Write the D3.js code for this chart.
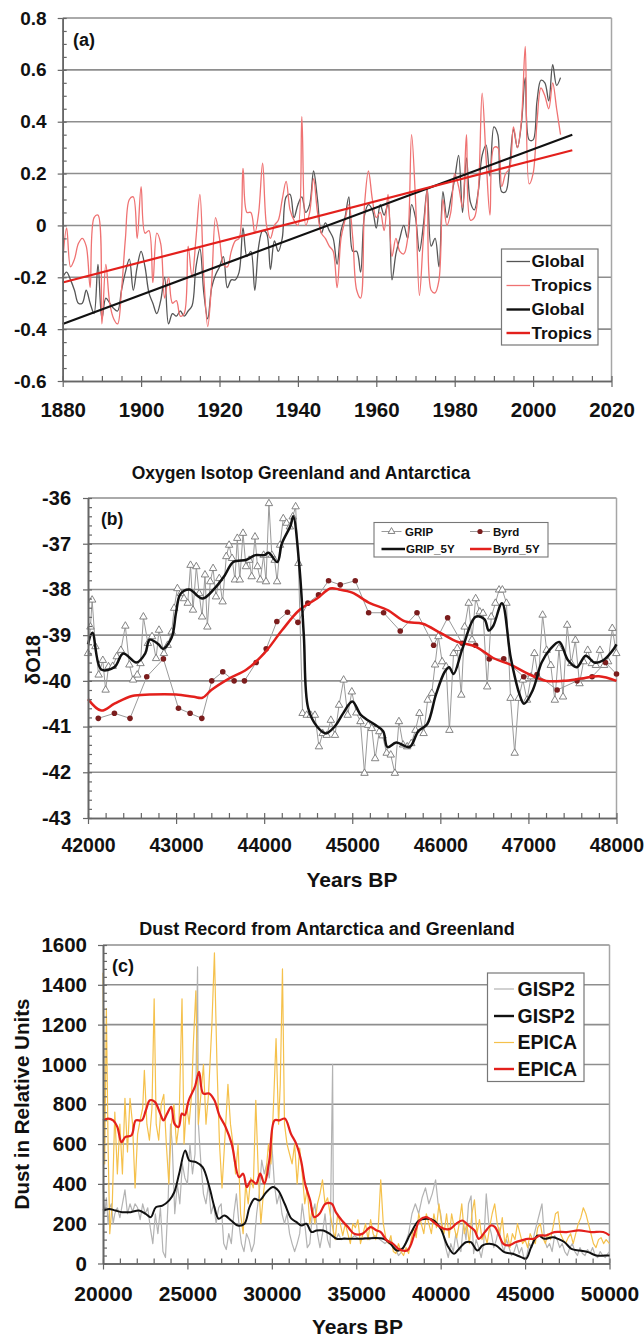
<!DOCTYPE html>
<html>
<head>
<meta charset="utf-8">
<script src="https://cdn.jsdelivr.net/npm/d3@7"></script>
<style>
  body { margin: 0; background: #fff; }
  svg { display: block; }
  text { font-family: "Liberation Sans", Arial, sans-serif; font-weight: bold; fill: #111; }
</style>
</head>
<body>
<script>
// ---- (a) global / tropics temperature anomaly ----
const yearsA = d3.range(1880, 2008);
const globalA = [
  -0.20, -0.18, -0.21, -0.25, -0.30, -0.30, -0.25, -0.30, -0.34, -0.15,
  -0.36, -0.28, -0.30, -0.32, -0.33, -0.25, -0.18, -0.13, -0.25, -0.16,
  -0.10, -0.16, -0.26, -0.30, -0.34, -0.29, -0.20, -0.38, -0.34, -0.35,
  -0.33, -0.35, -0.33, -0.31, -0.16, -0.09, -0.26, -0.36, -0.24, -0.19,
  -0.16, -0.12, -0.24, -0.21, -0.21, -0.18, -0.01, -0.12, -0.10, -0.25,
  -0.08, -0.02, -0.03, -0.17, -0.06, -0.10, -0.05, 0.11, 0.12, 0.03,
  0.08, 0.11, 0.05, 0.08, 0.21, 0.10, -0.03, 0.01, -0.02, -0.05,
  -0.15, -0.02, 0.03, 0.11, -0.10, -0.10, -0.18, 0.04, 0.08, 0.06,
  -0.01, 0.08, 0.04, 0.08, -0.21, -0.11, -0.05, 0.00, -0.05, 0.08,
  0.03, -0.10, 0.00, 0.14, -0.08, -0.05, -0.16, 0.13, 0.03, 0.10,
  0.18, 0.27, 0.05, 0.26, 0.09, 0.06, 0.13, 0.27, 0.31, 0.19,
  0.38, 0.35, 0.13, 0.13, 0.23, 0.37, 0.30, 0.39, 0.57, 0.33,
  0.33, 0.48, 0.56, 0.55, 0.48, 0.62, 0.54, 0.57
];
const tropicsA = [
  -0.14, -0.01, -0.16, -0.13, -0.07, -0.05, -0.08, -0.24, 0.03, 0.04,
  -0.38, -0.15, -0.30, -0.36, -0.38, -0.25, -0.05, 0.10, 0.11, -0.05,
  0.15, -0.03, -0.02, -0.22, -0.03, -0.07, -0.28, -0.20, -0.30, -0.29,
  -0.35, -0.34, -0.08, -0.20, -0.05, 0.12, -0.20, -0.39, -0.22, 0.03,
  -0.05, -0.15, -0.16, -0.10, -0.06, -0.05, 0.22, 0.05, 0.05, -0.03,
  0.05, 0.24, 0.00, -0.05, 0.00, 0.02, 0.10, 0.17, 0.06, 0.02,
  0.00, 0.42, 0.00, 0.05, 0.18, 0.05, -0.03, -0.05, -0.08, -0.10,
  -0.24, -0.05, 0.02, 0.08, -0.05, -0.25, -0.28, 0.08, 0.21, 0.10,
  0.03, 0.05, -0.02, 0.12, -0.12, -0.05, -0.10, -0.11, -0.05, 0.35,
  0.10, -0.27, -0.05, 0.14, -0.25, -0.26, -0.21, 0.10, 0.00, 0.05,
  0.20, 0.15, 0.07, 0.35, 0.02, 0.03, 0.13, 0.51, 0.26, 0.04,
  0.30, 0.30, 0.15, 0.20, 0.22, 0.38, 0.30, 0.40, 0.69, 0.16,
  0.20, 0.40, 0.53, 0.50, 0.45, 0.55, 0.45, 0.35
];
const trendYearsA = [1880, 2010];
const globalTrendA = [-0.38, 0.35];
const tropicsTrendA = [-0.22, 0.29];
const xTicksA = [1880, 1900, 1920, 1940, 1960, 1980, 2000, 2020];
const yTicksA = [-0.6, -0.4, -0.2, 0, 0.2, 0.4, 0.6, 0.8];

// ---- (b) oxygen isotope, Greenland (GRIP) and Antarctica (Byrd) ----
const gripYears = [
  42000, 42028, 42047, 42084, 42121, 42168, 42200, 42233, 42280, 42326, 42373, 42424, 42470, 42512, 42559,
  42596, 42629, 42680, 42727, 42773, 42806, 42862, 42904, 42950, 42978, 43015, 43053, 43090, 43132, 43164,
  43192, 43230, 43262, 43295, 43328, 43355, 43388, 43420, 43453, 43490, 43528, 43570, 43602, 43635, 43668,
  43695, 43723, 43760, 43793, 43830, 43858, 43896, 43924, 43956, 43994, 44021, 44054, 44087, 44119, 44147,
  44180, 44217, 44254, 44292, 44324, 44357, 44389, 44436, 44483, 44529, 44576, 44622, 44664, 44710, 44757,
  44804, 44850, 44902, 44948, 44995, 45046, 45093, 45139, 45181, 45222, 45260, 45307, 45344, 45391, 45437,
  45484, 45530, 45577, 45624, 45670, 45717, 45763, 45810, 45856, 45903, 45940, 45978, 46020, 46066, 46103,
  46150, 46192, 46238, 46276, 46322, 46359, 46401, 46448, 46485, 46532, 46578, 46625, 46667, 46704, 46751,
  46797, 46844, 46890, 46937, 46984, 47030, 47068, 47114, 47161, 47207, 47254, 47300, 47347, 47393, 47440,
  47486, 47533, 47580, 47626, 47673, 47719, 47766, 47812, 47859, 47905, 47952, 47998
];
const gripO18 = [
  -39.40, -38.82, -38.23, -39.25, -39.87, -39.55, -40.20, -39.69, -39.68, -39.47, -39.33, -38.80, -39.65, -39.98, -39.87,
  -39.62, -38.60, -39.18, -39.03, -39.51, -38.89, -39.40, -39.22, -38.93, -38.41, -37.98, -38.09, -38.20, -38.30, -37.47,
  -38.45, -37.50, -38.09, -38.60, -37.68, -38.82, -37.83, -37.54, -38.16, -37.76, -38.27, -37.28, -37.03, -37.32, -37.79,
  -36.88, -37.79, -36.77, -37.50, -37.36, -37.72, -36.85, -37.50, -37.79, -37.25, -37.83, -36.12, -37.25, -37.36, -37.83,
  -37.03, -36.45, -36.55, -36.63, -36.41, -36.19, -37.43, -40.71, -40.75, -40.75, -40.75, -41.44, -41.15, -41.19, -40.86,
  -41.19, -40.53, -39.98, -40.75, -40.24, -40.70, -40.89, -42.02, -40.97, -41.04, -41.70, -41.11, -41.20, -41.58, -41.62,
  -42.02, -40.89, -41.40, -41.44, -41.37, -41.08, -40.71, -41.15, -40.42, -40.27, -39.65, -39.03, -39.58, -39.69, -41.08,
  -39.40, -39.29, -40.31, -38.82, -38.30, -39.10, -38.20, -38.49, -38.52, -40.13, -38.60, -38.30, -38.01, -38.01, -38.30,
  -40.38, -41.58, -40.38, -39.98, -40.42, -39.91, -39.40, -39.95, -38.56, -39.33, -39.66, -40.42, -39.29, -40.35, -38.78,
  -39.62, -39.11, -40.06, -39.58, -39.33, -39.62, -39.66, -39.33, -39.66, -39.58, -38.85, -39.40
];
const byrdYears = [
  42117, 42300, 42477, 42667, 42856, 43027, 43159, 43292, 43405, 43530, 43659, 43776, 43909,
  44023, 44144, 44265, 44383, 44496, 44617, 44731, 44864, 45034, 45186, 45356, 45545, 45735,
  45924, 46083, 46248, 46400, 46555, 46720, 46947, 47098, 47326, 47553, 47723, 47875, 48000
];
const byrdO18 = [
  -40.82, -40.71, -40.82, -39.91, -39.52, -40.60, -40.71, -40.82, -40.00, -39.80, -40.00, -40.00, -39.60,
  -39.30, -38.70, -38.50, -38.72, -38.30, -38.12, -37.81, -37.90, -37.81, -38.51, -38.51, -38.91, -38.51,
  -39.22, -38.62, -39.18, -39.22, -39.52, -39.52, -39.91, -39.86, -40.20, -40.00, -39.91, -39.60, -39.85
];
const grip5Years = [
  42000, 42050, 42150, 42300, 42400, 42550, 42650, 42700, 42800, 42850, 42950, 43000, 43050, 43150, 43300,
  43450, 43550, 43650, 43800, 43900, 44000, 44050, 44150, 44200, 44300, 44330, 44400, 44450, 44500, 44600,
  44700, 44800, 44900, 45000, 45100, 45250, 45350, 45400, 45500, 45650, 45750, 45850, 45950, 46050, 46100,
  46150, 46250, 46400, 46500, 46550, 46600, 46700, 46800, 46900, 46950, 47050, 47150, 47250, 47350, 47450,
  47550, 47650, 47750, 47850, 47950, 48000
];
const grip5O18 = [
  -39.20, -38.95, -39.75, -39.70, -39.40, -39.60, -39.40, -39.10, -39.20, -39.30, -39.05, -38.50, -38.10, -38.00, -38.20,
  -37.95, -37.70, -37.40, -37.35, -37.25, -37.25, -37.20, -37.40, -37.00, -36.60, -36.40, -37.50, -39.00, -40.60, -41.00,
  -41.15, -41.00, -40.70, -40.45, -40.75, -40.95, -41.10, -41.45, -41.35, -41.45, -41.10, -40.95, -40.30, -39.80, -39.70,
  -39.85, -39.30, -38.60, -38.65, -38.90, -38.80, -38.30, -39.50, -40.30, -40.50, -40.20, -39.60, -39.30, -39.15, -39.55,
  -39.70, -39.45, -39.60, -39.55, -39.35, -39.20
];
const byrd5Years = [
  42000, 42150, 42300, 42500, 42700, 43000, 43200, 43300, 43400, 43600, 43800, 44000, 44200, 44400, 44600,
  44750, 44850, 45000, 45200, 45400, 45600, 45800, 46000, 46200, 46400, 46600, 46800, 47000, 47200, 47400,
  47600, 47800, 48000
];
const byrd5O18 = [
  -40.40, -40.65, -40.50, -40.33, -40.30, -40.30, -40.35, -40.37, -40.20, -39.95, -39.75, -39.40, -38.90, -38.45, -38.20,
  -37.98, -38.00, -38.07, -38.30, -38.45, -38.70, -38.75, -38.95, -39.15, -39.25, -39.50, -39.65, -39.85, -40.00, -40.00,
  -39.95, -39.90, -40.00
];
const xTicksB = [42000, 43000, 44000, 45000, 46000, 47000, 48000];
const yTicksB = [-43, -42, -41, -40, -39, -38, -37, -36];

// ---- (c) dust record, GISP2 (Greenland) and EPICA (Antarctica) ----
const gisp2RawYears = [
  20000, 20100, 20200, 20300, 20400, 20500, 20600, 20700, 20850, 21000, 21150, 21300, 21450, 21600, 21750,
  21900, 22050, 22200, 22350, 22500, 22650, 22800, 22950, 23100, 23250, 23400, 23550, 23700, 23850, 24000,
  24100, 24250, 24400, 24550, 24700, 24850, 25000, 25150, 25300, 25450, 25600, 25650, 25800, 25950, 26100,
  26250, 26400, 26550, 26700, 26850, 27000, 27150, 27300, 27450, 27600, 27750, 27900, 28050, 28200, 28350,
  28500, 28650, 28800, 28950, 29100, 29250, 29400, 29550, 29700, 29850, 30000, 30150, 30300, 30450, 30600,
  30750, 30900, 31050, 31200, 31350, 31500, 31650, 31800, 31950, 32100, 32250, 32400, 32550, 32700, 32850,
  33000, 33150, 33300, 33450, 33600, 33650, 33800, 33950, 34100, 34300, 34600, 34900, 35200, 35500, 35800,
  36100, 36400, 36700, 37000, 37300, 37500, 37700, 37900, 38100, 38300, 38500, 38700, 38900, 39100, 39300,
  39500, 39700, 39850, 40000, 40150, 40300, 40450, 40600, 40750, 40900, 41050, 41200, 41350, 41500, 41650,
  41800, 41950, 42100, 42250, 42400, 42550, 42700, 42850, 43000, 43150, 43300, 43450, 43600, 43750, 43900,
  44050, 44200, 44350, 44500, 44650, 44800, 44950, 45100, 45250, 45400, 45550, 45700, 45850, 46000, 46150,
  46300, 46450, 46600, 46750, 46900, 47050, 47200, 47350, 47500, 47650, 47800, 47950, 48100, 48250, 48400,
  48550, 48700, 48850, 49000, 49150, 49300, 49450, 49600, 49750, 49900, 50000
];
const gisp2Raw = [
  400, 250, 330, 200, 280, 300, 200, 250, 280, 230, 300, 370, 250, 300, 260,
  300, 280, 220, 300, 250, 280, 180, 100, 250, 150, 280, 60, 30, 300, 700,
  600, 250, 400, 300, 500, 430, 400, 600, 450, 550, 1490, 700, 500, 350, 300,
  400, 250, 300, 200, 280, 300, 100, 70, 150, 100, 250, 350, 200, 100, 60,
  150, 120, 60, 100, 250, 350, 520, 450, 500, 430, 600, 400, 300, 350, 250,
  200, 250, 150, 100, 60, 100, 150, 300, 200, 80, 100, 250, 300, 150, 80,
  150, 250, 120, 80, 1000, 150, 120, 150, 120, 130, 120, 140, 120, 130, 120,
  140, 120, 100, 120, 80, 40, 60, 100, 150, 250, 300, 250, 330, 380, 300,
  350, 420, 300, 250, 150, 80, 30, 100, 60, 150, 80, 60, 200, 120, 300,
  340, 50, 120, 80, 30, 100, 350, 200, 150, 80, 120, 180, 100, 60, 120,
  80, 40, 60, 100, 50, 80, 20, 40, 100, 80, 150, 200, 250, 300, 120,
  80, 100, 60, 140, 120, 80, 100, 60, 40, 80, 100, 60, 40, 80, 50,
  40, 70, 50, 80, 40, 30, 60, 40, 30, 50, 60
];
const gisp2SmoothYears = [
  20000, 20360, 20740, 21140, 21640, 22130, 22530, 22830, 23130, 23520, 23920, 24220, 24510, 24870, 25110,
  25510, 25900, 26300, 26600, 26850, 27190, 27590, 27990, 28380, 28680, 28980, 29280, 29670, 30070, 30370,
  30760, 31160, 31460, 31760, 32050, 32350, 32650, 33050, 33440, 33840, 34240, 35040, 36630, 37020, 37420,
  37720, 38210, 38710, 39210, 39600, 40000, 40400, 40790, 41090, 41490, 41790, 42180, 42480, 42880, 43270,
  43770, 44270, 44760, 45060, 45360, 45750, 46150, 46650, 46940, 47340, 47740, 48230, 48730, 49230, 49720,
  50000
];
const gisp2Smooth = [
  266, 274, 266, 258, 258, 266, 249, 233, 283, 291, 317, 358, 451, 568, 518,
  509, 484, 384, 283, 225, 241, 216, 191, 200, 283, 325, 317, 358, 384, 367,
  300, 225, 208, 191, 200, 158, 166, 166, 149, 124, 124, 124, 124, 99, 65,
  74, 149, 216, 225, 216, 174, 91, 49, 74, 107, 107, 65, 91, 99, 91,
  57, 49, 32, 24, 82, 141, 124, 132, 124, 107, 74, 65, 57, 40, 40,
  40
];
const epicaRawYears = [
  20000, 20100, 20200, 20300, 20400, 20550, 20700, 20850, 21000, 21150, 21300, 21450, 21600, 21750, 21900,
  22050, 22200, 22350, 22450, 22600, 22750, 22900, 23030, 23150, 23300, 23450, 23600, 23750, 23900, 24050,
  24200, 24350, 24500, 24680, 24800, 24950, 25100, 25250, 25350, 25500, 25650, 25800, 25950, 26100, 26250,
  26450, 26600, 26750, 26900, 27050, 27200, 27400, 27550, 27700, 27850, 28000, 28150, 28300, 28450, 28600,
  28750, 28900, 29050, 29200, 29350, 29500, 29650, 29800, 29950, 30100, 30250, 30400, 30500, 30630, 30750,
  30900, 31050, 31200, 31350, 31500, 31650, 31800, 31950, 32100, 32250, 32400, 32550, 32700, 32850, 33000,
  33150, 33300, 33450, 33600, 33750, 33900, 34050, 34200, 34350, 34500, 34650, 34800, 34950, 35100, 35250,
  35400, 35550, 35700, 35850, 36000, 36150, 36300, 36450, 36600, 36750, 36900, 37050, 37200, 37350, 37500,
  37650, 37800, 37950, 38100, 38250, 38400, 38550, 38700, 38850, 39000, 39150, 39300, 39450, 39600, 39750,
  39900, 40050, 40200, 40350, 40500, 40650, 40800, 40950, 41100, 41250, 41400, 41550, 41700, 41850, 42000,
  42150, 42300, 42450, 42600, 42750, 42900, 43050, 43200, 43350, 43500, 43650, 43800, 43950, 44100, 44250,
  44400, 44550, 44700, 44850, 45000, 45150, 45300, 45450, 45600, 45750, 45900, 46050, 46200, 46350, 46500,
  46650, 46800, 46950, 47100, 47250, 47400, 47550, 47700, 47850, 48000, 48150, 48300, 48450, 48600, 48750,
  48900, 49050, 49200, 49350, 49500, 49650, 49800, 50000
];
const epicaRaw = [
  1460, 500, 1280, 600, 150, 300, 760, 450, 700, 450, 830, 560, 830, 700, 380,
  650, 720, 780, 970, 700, 620, 780, 1330, 700, 620, 800, 850, 600, 400, 700,
  800, 600, 700, 1330, 600, 800, 700, 850, 1100, 1370, 700, 850, 1000, 700, 850,
  1200, 1560, 1000, 600, 380, 600, 900, 700, 600, 450, 600, 250, 150, 400, 300,
  430, 380, 820, 450, 200, 350, 450, 600, 500, 800, 1130, 700, 900, 1480, 700,
  600, 550, 500, 600, 400, 580, 450, 300, 380, 200, 280, 200, 300, 350, 420,
  300, 330, 250, 180, 120, 250, 200, 140, 200, 150, 100, 200, 180, 220, 100,
  150, 200, 120, 220, 150, 120, 180, 420, 200, 130, 100, 140, 60, 50, 100,
  60, 40, 80, 50, 120, 180, 130, 250, 200, 150, 250, 200, 150, 250, 180,
  300, 200, 150, 250, 130, 250, 180, 130, 200, 300, 150, 200, 100, 250, 320,
  150, 220, 120, 150, 100, 180, 250, 300, 200, 150, 230, 100, 150, 80, 150,
  120, 200, 150, 100, 120, 80, 150, 120, 100, 180, 200, 130, 100, 150, 120,
  180, 250, 260, 150, 120, 100, 130, 150, 100, 150, 200, 230, 280, 250, 200,
  150, 100, 80, 120, 130, 100, 120, 100
];
const epicaSmoothYears = [
  20000, 20310, 20600, 20850, 21090, 21330, 21690, 21940, 22300, 22540, 22780, 23070, 23390, 23580, 23800,
  24040, 24230, 24480, 24670, 24840, 25080, 25440, 25690, 25930, 26290, 26600, 26890, 27260, 27620, 28060,
  28300, 28520, 28780, 29070, 29310, 29560, 29850, 30160, 30450, 30770, 31130, 31440, 31730, 31970, 32270,
  32510, 32820, 33180, 33550, 33790, 34150, 34510, 34880, 35360, 35850, 36210, 36450, 36810, 37180, 37490,
  37780, 38020, 38220, 38510, 38750, 39110, 39350, 39590, 39840, 40200, 40560, 40930, 41290, 41650, 42010,
  42260, 42620, 42980, 43220, 43470, 43710, 44070, 44430, 44800, 45160, 45520, 45880, 46250, 46730, 47460,
  48180, 48910, 49630, 50000
];
const epicaSmooth = [
  719, 728, 719, 686, 610, 636, 644, 719, 719, 770, 820, 812, 753, 719, 753,
  787, 703, 686, 753, 745, 820, 887, 963, 854, 854, 820, 745, 686, 602, 434,
  451, 384, 418, 401, 451, 401, 518, 719, 719, 728, 652, 602, 518, 401, 317,
  233, 250, 300, 300, 258, 216, 183, 149, 149, 183, 166, 158, 116, 99, 74,
  65, 65, 91, 166, 216, 233, 225, 208, 191, 174, 174, 200, 216, 191, 166,
  124, 158, 191, 183, 141, 99, 91, 107, 116, 124, 124, 141, 141, 158, 158,
  166, 158, 158, 141
];
const xTicksC = [20000, 25000, 30000, 35000, 40000, 45000, 50000];
const yTicksC = [0, 200, 400, 600, 800, 1000, 1200, 1400, 1600];

const RED = '#e3201c';
const svg = d3.select('body').append('svg').attr('width', 644).attr('height', 1338);

function frame(p) {
  const g = svg.append('g');
  const x = d3.scaleLinear().domain(p.xDomain).range([p.left, p.right]);
  const y = d3.scaleLinear().domain(p.yDomain).range([p.bottom, p.top]);
  g.append('g').selectAll('line').data(p.yTicks.slice(1)).join('line')
    .attr('x1', p.left).attr('x2', p.right)
    .attr('y1', (d) => y(d)).attr('y2', (d) => y(d))
    .attr('stroke', '#8e8e8e').attr('stroke-width', 1.6);
  g.append('line').attr('x1', p.right).attr('x2', p.right).attr('y1', p.top).attr('y2', p.bottom)
    .attr('stroke', '#a6a6a6').attr('stroke-width', 1.5);
  const plot = g.append('g');
  return { g, plot, x, y };
}

function axes(f, p) {
  const styleAxis = (sel) => {
    sel.attr('font-family', null).attr('font-size', null);
    sel.select('.domain').attr('stroke', '#666').attr('stroke-width', 1.6);
    sel.selectAll('.tick line').attr('stroke', '#666').attr('stroke-width', 1.2);
  };
  const yMinor = d3.range(p.yDomain[0], p.yDomain[1] + 1e-9, p.yMinor);
  const xMinor = d3.range(p.xDomain[0], p.xDomain[1] + 1e-9, p.xMinor);

  f.g.append('g').attr('transform', `translate(${p.left},0)`)
    .call(d3.axisLeft(f.y).tickValues(yMinor).tickSize(-4).tickSizeOuter(0).tickFormat(''))
    .call(styleAxis);
  const ya = f.g.append('g').attr('transform', `translate(${p.left},0)`)
    .call(d3.axisLeft(f.y).tickValues(p.yTicks).tickSize(5).tickSizeOuter(0).tickPadding(p.yPad).tickFormat((d) => String(d)))
    .call(styleAxis);
  ya.selectAll('text').style('font-size', p.yFont + 'px').attr('fill', '#111');

  f.g.append('g').attr('transform', `translate(0,${p.bottom})`)
    .call(d3.axisBottom(f.x).tickValues(xMinor).tickSize(-5).tickSizeOuter(0).tickFormat(''))
    .call(styleAxis);
  const xa = f.g.append('g').attr('transform', `translate(0,${p.bottom})`)
    .call(d3.axisBottom(f.x).tickValues(p.xTicks).tickSize(6).tickSizeOuter(0).tickPadding(p.xPad).tickFormat((d) => String(d)))
    .call(styleAxis);
  xa.selectAll('text').style('font-size', p.xFont + 'px').attr('fill', '#111');
  return xa;
}

function addText(txt, x, y, size, opts = {}) {
  const t = svg.append('text').attr('x', x).attr('y', y).style('font-size', size + 'px')
    .attr('text-anchor', opts.anchor || 'start').text(txt);
  if (opts.rotate) t.attr('transform', `rotate(${opts.rotate},${x},${y})`);
  return t;
}

function path(f, xs, ys, color, width, curve) {
  const line = d3.line().x((d) => f.x(d[0])).y((d) => f.y(d[1])).curve(curve || d3.curveLinear);
  return f.plot.append('path').datum(d3.zip(xs, ys)).attr('d', line)
    .attr('fill', 'none').attr('stroke', color).attr('stroke-width', width).attr('stroke-linejoin', 'round');
}

// ================= panel (a) =================
const pA = {
  xDomain: [1880, 2020], yDomain: [-0.6, 0.8], left: 62.7, right: 611.5, top: 18, bottom: 381,
  xTicks: xTicksA, yTicks: yTicksA, xMinor: 5, yMinor: 0.05, yPad: 11, xPad: 15, yFont: 19, xFont: 20.5
};
const fA = frame(pA);
path(fA, yearsA, globalA, '#555', 1.3, d3.curveCatmullRom);
path(fA, yearsA, tropicsA, '#ef7272', 1.3, d3.curveCatmullRom);
path(fA, trendYearsA, globalTrendA, '#111', 2.2);
path(fA, trendYearsA, tropicsTrendA, RED, 2.2);
axes(fA, pA);
addText('(a)', 73, 46, 18);

const legA = svg.append('g');
legA.append('rect').attr('x', 501.5).attr('y', 249).attr('width', 96.5).attr('height', 96)
  .attr('fill', '#fff').attr('stroke', '#777').attr('stroke-width', 1.2);
[['Global', '#555', 1.3, 261.5], ['Tropics', '#ef7272', 1.3, 285.5], ['Global', '#111', 2.4, 309.5], ['Tropics', RED, 2.4, 333]]
  .forEach(([label, color, w, yy]) => {
    legA.append('line').attr('x1', 506.5).attr('x2', 530).attr('y1', yy).attr('y2', yy)
      .attr('stroke', color).attr('stroke-width', w);
    legA.append('text').attr('x', 531.5).attr('y', yy).attr('dy', '0.35em').style('font-size', '17px').text(label);
  });

// ================= panel (b) =================
const pB = {
  xDomain: [42000, 48000], yDomain: [-43, -36], left: 88, right: 616.5, top: 498, bottom: 818,
  xTicks: xTicksB, yTicks: yTicksB, xMinor: 200, yMinor: 0.2, yPad: 12, xPad: 14, yFont: 20, xFont: 19.5
};
const fB = frame(pB);
path(fB, byrdYears, byrdO18, '#9a9a9a', 1);
path(fB, gripYears, gripO18, '#9a9a9a', 1);
fB.plot.append('g').selectAll('path').data(d3.zip(gripYears, gripO18)).join('path')
  .attr('transform', (d) => `translate(${fB.x(d[0])},${fB.y(d[1])})`)
  .attr('d', d3.symbol(d3.symbolTriangle, 24))
  .attr('fill', '#fff').attr('stroke', '#777').attr('stroke-width', 0.9);
fB.plot.append('g').selectAll('circle').data(d3.zip(byrdYears, byrdO18)).join('circle')
  .attr('cx', (d) => fB.x(d[0])).attr('cy', (d) => fB.y(d[1])).attr('r', 2.8)
  .attr('fill', '#7b1d1d');
path(fB, byrd5Years, byrd5O18, RED, 2.5, d3.curveCatmullRom);
path(fB, grip5Years, grip5O18, '#111', 2.5, d3.curveCatmullRom);
const xaB = axes(fB, pB);
// last label sits against the page edge in the original
xaB.selectAll('.tick').filter((d) => d === 48000).select('text').attr('text-anchor', 'end').attr('x', 27);
addText('Oxygen Isotop Greenland and Antarctica', 301, 479, 17.5, { anchor: 'middle' });
addText('δO18', 40, 660, 20, { anchor: 'middle', rotate: -90 });
addText('Years BP', 352, 887, 21, { anchor: 'middle' });
addText('(b)', 101, 525, 17.5);

const legB = svg.append('g');
legB.append('rect').attr('x', 374).attr('y', 522.5).attr('width', 174).attr('height', 34.5)
  .attr('fill', '#fff').attr('stroke', '#777').attr('stroke-width', 1.1);
legB.append('line').attr('x1', 381.5).attr('x2', 401.5).attr('y1', 531.5).attr('y2', 531.5).attr('stroke', '#9a9a9a');
legB.append('path').attr('transform', 'translate(391.5,531.5)').attr('d', d3.symbol(d3.symbolTriangle, 20))
  .attr('fill', '#fff').attr('stroke', '#777').attr('stroke-width', 0.9);
legB.append('line').attr('x1', 470).attr('x2', 490).attr('y1', 531.5).attr('y2', 531.5).attr('stroke', '#9a9a9a');
legB.append('circle').attr('cx', 480).attr('cy', 531.5).attr('r', 2.6).attr('fill', '#7b1d1d');
legB.append('line').attr('x1', 381.5).attr('x2', 405).attr('y1', 549).attr('y2', 549).attr('stroke', '#111').attr('stroke-width', 2.5);
legB.append('line').attr('x1', 470).attr('x2', 491.5).attr('y1', 549).attr('y2', 549).attr('stroke', RED).attr('stroke-width', 2.5);
[['GRIP', 405, 531.5], ['Byrd', 493, 531.5], ['GRIP_5Y', 406, 549], ['Byrd_5Y', 493, 549]].forEach(([label, xx, yy]) => {
  legB.append('text').attr('x', xx).attr('y', yy).attr('dy', '0.35em').style('font-size', '11.5px').text(label);
});

// ================= panel (c) =================
const pC = {
  xDomain: [20000, 50000], yDomain: [0, 1600], left: 103, right: 609.5, top: 945, bottom: 1263.5,
  xTicks: xTicksC, yTicks: yTicksC, xMinor: 1000, yMinor: 40, yPad: 11, xPad: 17, yFont: 20.5, xFont: 21
};
const fC = frame(pC);
path(fC, gisp2RawYears, gisp2Raw, '#b3b3b3', 1.2);
path(fC, epicaRawYears, epicaRaw, '#f5c14c', 1.2);
path(fC, gisp2SmoothYears, gisp2Smooth, '#111', 2, d3.curveCatmullRom);
path(fC, epicaSmoothYears, epicaSmooth, RED, 2.2, d3.curveCatmullRom);
axes(fC, pC);
addText('Dust Record from Antarctica and Greenland', 327, 935, 18, { anchor: 'middle' });
addText('Dust in Relative Units', 29, 1104, 20.5, { anchor: 'middle', rotate: -90 });
addText('Years BP', 357.5, 1334, 21, { anchor: 'middle' });
addText('(c)', 112, 972, 18);

const legC = svg.append('g');
legC.append('rect').attr('x', 487.5).attr('y', 973).attr('width', 96.5).attr('height', 108.5)
  .attr('fill', '#fff').attr('stroke', '#777').attr('stroke-width', 1.2);
[['GISP2', '#b3b3b3', 1.2, 989], ['GISP2', '#111', 2.4, 1016], ['EPICA', '#f5c14c', 1.2, 1042.5], ['EPICA', RED, 2.4, 1069]]
  .forEach(([label, color, w, yy]) => {
    legC.append('line').attr('x1', 494).attr('x2', 514).attr('y1', yy).attr('y2', yy)
      .attr('stroke', color).attr('stroke-width', w);
    legC.append('text').attr('x', 517.5).attr('y', yy).attr('dy', '0.35em').style('font-size', '19.5px').text(label);
  });
</script>
</body>
</html>
